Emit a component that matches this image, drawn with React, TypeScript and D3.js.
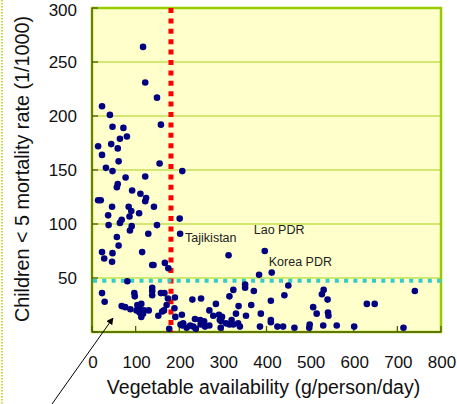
import React from "react";
import * as d3 from "d3";

// vegetable availability (g/person/day) and under-5 mortality (per 1000), one entry per country
const vegetable = [
  117, 122, 149, 23, 41, 47, 72, 158, 80, 64, 44, 14, 59, 23, 61, 155, 32, 47, 207, 77,
  122, 59, 57, 92, 111, 124, 122, 14, 20, 46, 84, 142, 90, 108, 37, 86, 68, 201, 64, 38,
  149, 91, 87, 129, 202, 57, 61, 23, 28, 47, 46, 115, 138, 141, 167, 175, 313, 396, 383, 412,
  81, 23, 29, 97, 98, 138, 138, 138, 166, 190, 174, 68, 76, 88, 104, 113, 102, 109, 119, 130,
  109, 117, 113, 152, 165, 171, 189, 191, 177, 206, 203, 207, 217, 225, 232, 238, 236, 249, 259, 269,
  230, 250, 284, 269, 248, 257, 278, 291, 298, 293, 296, 295, 307, 315, 324, 335, 339, 320, 330, 336,
  315, 324, 351, 351, 371, 365, 353, 387, 385, 410, 410, 410, 425, 438, 450, 441, 464, 499, 498, 507,
  515, 527, 531, 540, 541, 542, 530, 561, 601, 630, 648, 714, 740, 158, 161, 209,
];
const mortality = [
  264, 231, 217, 209, 201, 190, 189, 192, 181, 179, 174, 172, 170, 164, 158, 156, 152, 149, 149, 143,
  144, 137, 134, 131, 128, 124, 121, 122, 122, 116, 116, 116, 112, 110, 108, 107, 104, 105, 101, 99,
  99, 98, 94, 91, 91, 88, 80, 74, 68, 73, 65, 74, 62, 62, 64, 59, 71, 75, 53, 55,
  47, 36, 28, 36, 33, 41, 38, 34, 36, 32, 31, 24, 23, 21, 25, 26, 20, 21, 20, 20,
  18, 17, 14, 15, 20, 25, 22, 14, 3, 16, 7, 6, 4, 6, 5, 3, 12, 7, 5, 6,
  30, 31, 26, 20, 11, 10, 15, 16, 14, 11, 10, 4, 8, 7, 7, 8, 5, 11, 17, 24,
  33, 39, 44, 41, 38, 25, 15, 17, 5, 29, 11, 9, 5, 5, 43, 34, 4, 7, 4, 23,
  17, 35, 39, 30, 18, 15, 6, 6, 5, 26, 26, 4, 38, 36, 19, 8,
];

const labelNames = ["Tajikistan", "Lao PDR", "Korea PDR"];
const labelIndex = [44, 57, 59];

const xTicks = [0, 100, 200, 300, 400, 500, 600, 700, 800];
const yTicks = [0, 50, 100, 150, 200, 250, 300];
const gridValues = [50, 100, 150, 200, 250];

// reference lines
const vegThreshold = 181;
const mortThreshold = 47.5;

const W = 457;
const H = 404;
const left = 92;
const right = 441;
const top = 8;
const bottom = 332;

const font = "Arial, 'Liberation Sans', sans-serif";

// label placement relative to its point
const labelOffsets = [
  [5, 8],
  [-11, -17.5],
  [-3, -7],
];

export default function App() {
  const x = d3.scaleLinear().domain([0, 800]).range([left, right]);
  const y = d3.scaleLinear().domain([0, 300]).range([bottom, top]);

  return (
    <svg
      width={W}
      height={H}
      style={{ position: "absolute", left: 0, top: 0, background: "#fff" }}
      fontFamily={font}
    >
      <defs>
        <marker id="arrow" viewBox="0 0 10 10" refX="9" refY="5" markerWidth="7" markerHeight="7" orient="auto">
          <path d="M0,0 L10,5 L0,10 z" fill="#000" />
        </marker>
      </defs>

      {/* slide frame remnant */}
      <line x1={2} x2={2} y1={0} y2={H} stroke="#a8d400" strokeWidth={1.5} strokeDasharray="1.5 1.5" />

      <rect x={left} y={top} width={right - left} height={bottom - top} fill="#ffffcc" />

      {gridValues.map((v) => (
        <line key={v} x1={left} x2={right} y1={y(v)} y2={y(v)} stroke="#c4e052" strokeWidth={1.5} />
      ))}

      {/* border */}
      <rect
        x={left}
        y={top}
        width={right - left}
        height={bottom - top}
        fill="none"
        stroke="#99cc00"
        strokeWidth={2.5}
      />
      <line x1={left} x2={left} y1={top} y2={bottom} stroke="#4f5c00" strokeWidth={1.3} />
      <line x1={left} x2={right} y1={bottom} y2={bottom} stroke="#4f5c00" strokeWidth={1.3} />

      {yTicks.map((v) => (
        <g key={v}>
          <line x1={left} x2={left + 6} y1={y(v)} y2={y(v)} stroke="#4f5c00" strokeWidth={1.3} />
          {v > 0 && (
            <text
              x={77}
              y={Math.max(y(v) + 6.1, 15.6)}
              textAnchor="end"
              fontSize={17}
              fill="#111"
            >
              {v}
            </text>
          )}
        </g>
      ))}

      {xTicks.map((v) => (
        <g key={v}>
          <line x1={x(v)} x2={x(v)} y1={bottom} y2={bottom - 6} stroke="#4f5c00" strokeWidth={1.3} />
          <text x={x(v) + 1} y={368} textAnchor="middle" fontSize={17} fill="#111">
            {v}
          </text>
        </g>
      ))}

      {/* threshold lines */}
      <line
        x1={x(vegThreshold)}
        x2={x(vegThreshold)}
        y1={top}
        y2={bottom}
        stroke="#ff0000"
        strokeWidth={5}
        strokeDasharray="5 5.4"
      />
      <line
        x1={left + 1}
        x2={right}
        y1={y(mortThreshold)}
        y2={y(mortThreshold)}
        stroke="#33cccc"
        strokeWidth={4}
        strokeDasharray="4 5.3"
      />

      {vegetable.map((v, i) => (
        <circle key={i} cx={x(v)} cy={y(mortality[i])} r={3.3} fill="#000080" />
      ))}

      {labelNames.map((name, k) => {
        const i = labelIndex[k];
        return (
          <text
            key={name}
            x={x(vegetable[i]) + labelOffsets[k][0]}
            y={y(mortality[i]) + labelOffsets[k][1]}
            fontSize={12.5}
            fill="#222"
          >
            {name}
          </text>
        );
      })}

      <text
        transform={`translate(28.5,${(top + bottom) / 2 - 1}) rotate(-90)`}
        textAnchor="middle"
        fontSize={19.8}
        fill="#111"
      >
        Children &lt; 5 mortality rate (1/1000)
      </text>
      <text x={263.5} y={394} textAnchor="middle" fontSize={19.5} fill="#111">
        Vegetable availability (g/person/day)
      </text>

      <line x1={52} y1={404} x2={113} y2={318} stroke="#000" strokeWidth={1} markerEnd="url(#arrow)" />
    </svg>
  );
}
